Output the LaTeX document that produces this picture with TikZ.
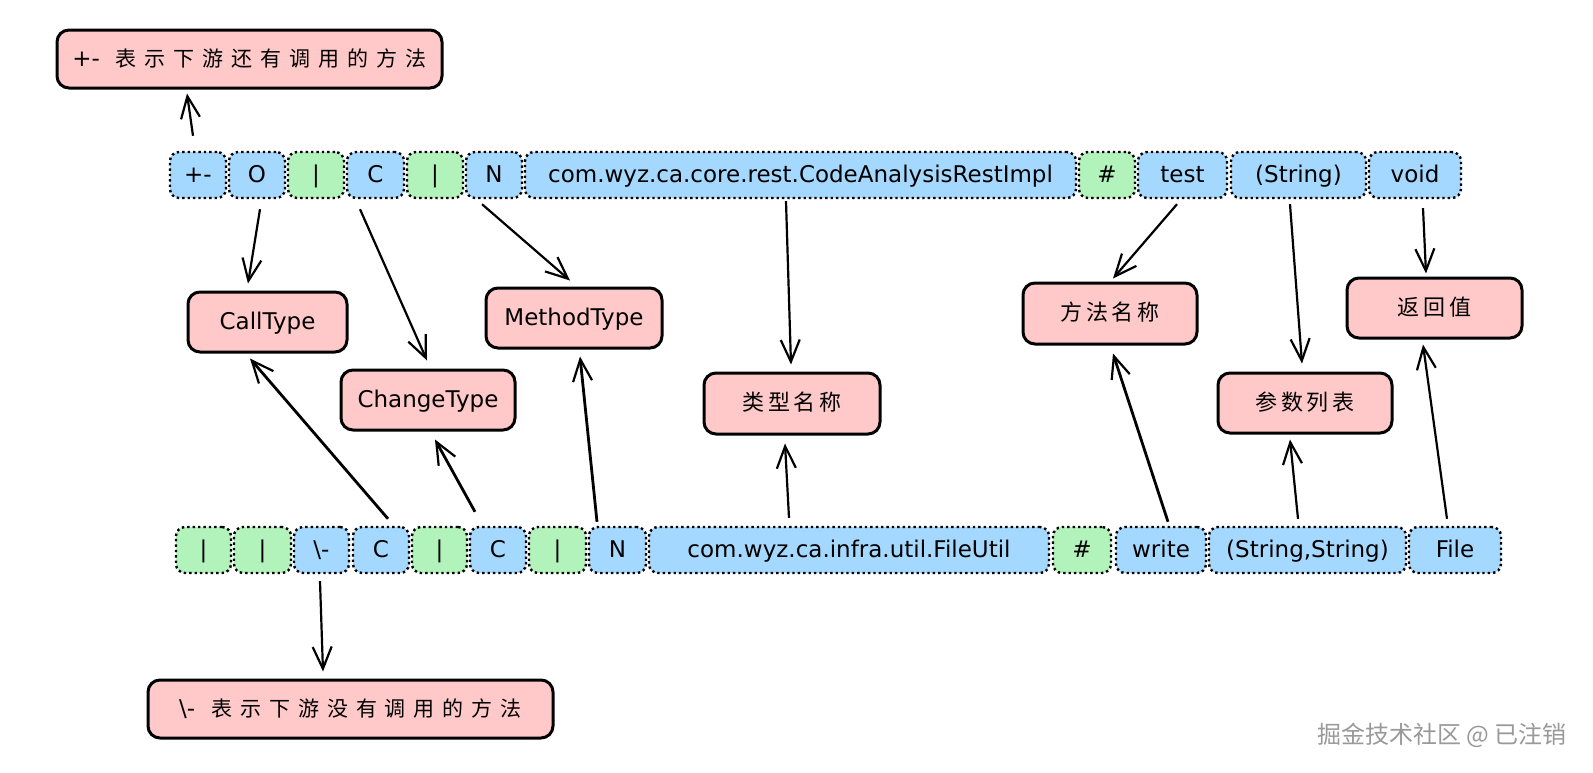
\documentclass[tikz,border=0pt]{standalone}
\usepackage{fontspec}
\setmainfont{DejaVu Sans}
\newfontfamily\cjka[LetterSpace=38]{Noto Sans CJK SC}
\newfontfamily\cjkb[LetterSpace=18]{Noto Sans CJK SC}
\newfontfamily\cjkw{Noto Sans CJK SC}
\usetikzlibrary{arrows.meta,calc}
\definecolor{blu}{HTML}{A5D8FF}
\definecolor{grn}{HTML}{B2F2BB}
\definecolor{pnk}{HTML}{FFC9C9}
\tikzset{
  cell/.style={draw=black, line width=2.4pt, dash pattern=on 2.4pt off 3pt,
    rounded corners=9pt, minimum height=46pt, inner sep=0pt,
    text height=16pt, text depth=2pt,
    font=\fontsize{23}{26}\selectfont},
  bcell/.style={cell, fill=blu},
  gcell/.style={cell, fill=grn},
  tagbox/.style={draw=black, line width=3pt, fill=pnk, rounded corners=12pt,
    inner sep=0pt, text height=16pt, text depth=2pt,
    font=\fontsize{23}{26}\selectfont},
  arr/.style={-{Straight Barb[length=22pt,width=19pt,line width=2.2pt]}, line width=2.2pt},
  arrb/.style={arr, line width=2.8pt},
}
\newcommand{\ca}{\cjka\fontsize{21}{24}\selectfont}
\newcommand{\cb}{\cjkb\fontsize{22}{24}\selectfont}
\begin{document}
\begin{tikzpicture}[x=1pt,y=-1pt]
\useasboundingbox[fill=white] (0,0) rectangle (1593,772);
% top row
\node[bcell, minimum width=56pt] (t1) at (198,175) {+-};
\node[bcell, minimum width=56pt] (t2) at (257,175) {O};
\node[gcell, minimum width=56pt] (t3) at (316,175) {|};
\node[bcell, minimum width=57pt] (t4) at (375.5,175) {C};
\node[gcell, minimum width=56pt] (t5) at (435,175) {|};
\node[bcell, minimum width=56pt] (t6) at (494,175) {N};
\node[bcell, minimum width=551pt] (t7) at (800.5,175) {com.wyz.ca.core.rest.CodeAnalysisRestImpl};
\node[gcell, minimum width=56pt] (t8) at (1107,175) {\#};
\node[bcell, minimum width=89pt] (t9) at (1182.5,175) {test};
\node[bcell, minimum width=135pt] (t10) at (1298.5,175) {(String)};
\node[bcell, minimum width=92pt] (t11) at (1415,175) {void};
% bottom row
\node[gcell, minimum width=55pt] (b1) at (203.5,550) {|};
\node[gcell, minimum width=57pt] (b2) at (262.5,550) {|};
\node[bcell, minimum width=55pt] (b3) at (321.5,550) {\textbackslash-};
\node[bcell, minimum width=56pt] (b4) at (381,550) {C};
\node[gcell, minimum width=55pt] (b5) at (439.5,550) {|};
\node[bcell, minimum width=56pt] (b6) at (498,550) {C};
\node[gcell, minimum width=57pt] (b7) at (557.5,550) {|};
\node[bcell, minimum width=57pt] (b8) at (617.5,550) {N};
\node[bcell, minimum width=400pt] (b9) at (849,550) {com.wyz.ca.infra.util.FileUtil};
\node[gcell, minimum width=58pt] (b10) at (1082,550) {\#};
\node[bcell, minimum width=90pt] (b11) at (1161,550) {write};
\node[bcell, minimum width=197pt] (b12) at (1307.5,550) {(String,String)};
\node[bcell, minimum width=92pt] (b13) at (1455,550) {File};
% pink boxes
\node[tagbox, minimum width=385pt, minimum height=58pt] (ptop) at (249.5,59) {+-\hspace{16pt}{\ca 表示下游还有调用的方法}};
\node[tagbox, minimum width=405pt, minimum height=58pt] (pbot) at (350.5,709) {\textbackslash-\hspace{16pt}{\ca 表示下游没有调用的方法}};
\node[tagbox, minimum width=159pt, minimum height=60pt] (call) at (267.5,322) {CallType};
\node[tagbox, minimum width=174pt, minimum height=60pt] (change) at (428,400) {ChangeType};
\node[tagbox, minimum width=176pt, minimum height=60pt] (method) at (574,318) {MethodType};
\node[tagbox, minimum width=176pt, minimum height=61pt] (type) at (792,403.5) {\cb 类型名称};
\node[tagbox, minimum width=174pt, minimum height=61pt] (mname) at (1110,313.5) {\cb 方法名称};
\node[tagbox, minimum width=174pt, minimum height=60pt] (param) at (1305,403) {\cb 参数列表};
\node[tagbox, minimum width=175pt, minimum height=60pt] (ret) at (1434.5,308) {\cb 返回值};
% arrows
\draw[arr] ($(t1.north)+(-5,-15)$) -- ($(ptop.south)+(-62.5,4)$);
\draw[arr] ($(t2.south)+(3,10)$) -- ($(call.north)+(-19.5,-7)$);
\draw[arr] ($(t4.south)+(-15.5,10)$) -- ($(change.north)+(-1,-8)$);
\draw[arr] ($(t6.south)+(-12,5)$) -- ($(method.north)+(-4,-6)$);
\draw[arr] ($(t7.south)+(-14.5,2)$) -- ($(type.north)+(-1,-7)$);
\draw[arr] ($(t9.south)+(-5.5,5)$) -- ($(mname.north)+(3,-3)$);
\draw[arr] ($(t10.south)+(-8.5,5)$) -- ($(param.north)+(-3,-8)$);
\draw[arr] ($(t11.south)+(8,9)$) -- ($(ret.north)+(-8.5,-3)$);
\draw[arr] ($(b3.south)+(-1.5,7)$) -- ($(pbot.north)+(-27.5,-7)$);
\draw[arrb] ($(b4.north)+(7,-7)$) -- ($(call.south)+(-17.5,5)$);
\draw[arrb] ($(b6.north)+(-23,-14)$) -- ($(change.south)+(7,8)$);
\draw[arrb] ($(b8.north)+(-20.5,-4)$) -- ($(method.south)+(6,7)$);
\draw[arr] ($(b9.north)+(-60,-8)$) -- ($(type.south)+(-7,8)$);
\draw[arrb] ($(b11.north)+(7,-4)$) -- ($(mname.south)+(3,8)$);
\draw[arr] ($(b12.north)+(-9.5,-7)$) -- ($(param.south)+(-15,5)$);
\draw[arr] ($(b13.north)+(-8,-7)$) -- ($(ret.south)+(-11.5,5)$);
% watermark
\node[font=\cjkw\fontsize{24}{26}\selectfont, text=black!40] (wm) at (1442,735) {掘金技术社区 @ 已注销};
\end{tikzpicture}
\end{document}
